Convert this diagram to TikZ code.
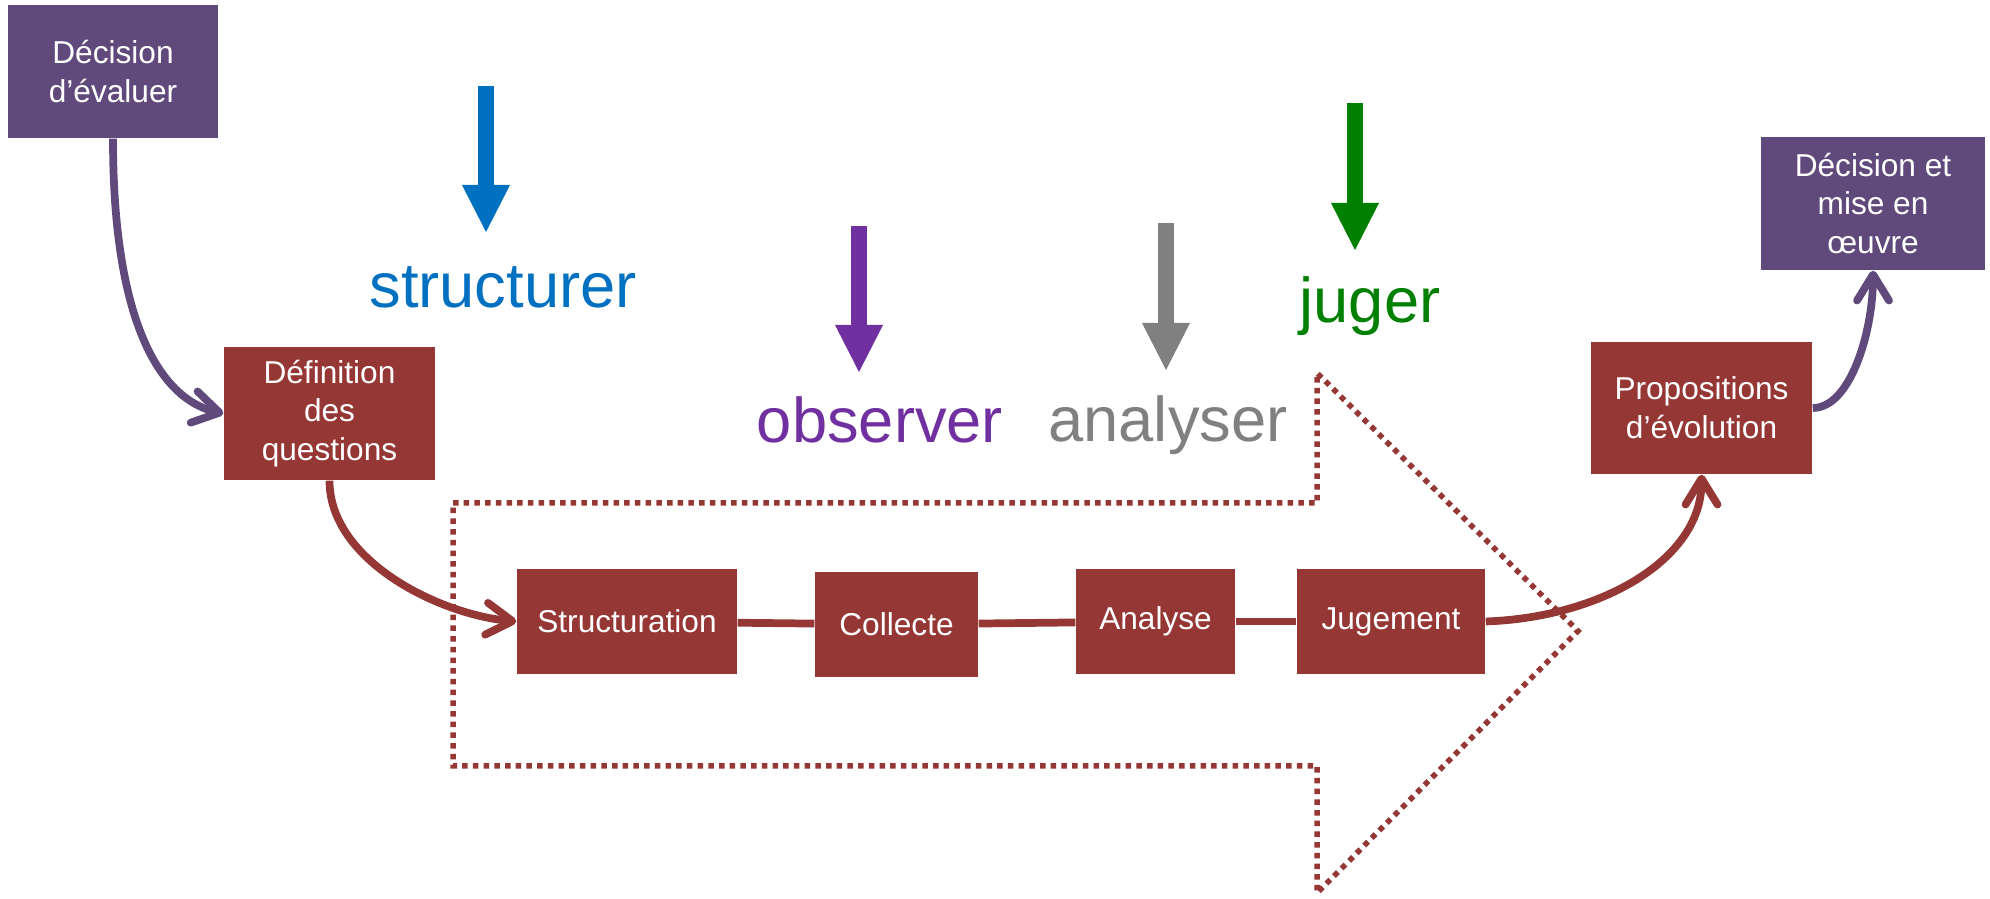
\documentclass[tikz,border=0pt]{standalone}
\usepackage{fontspec}
\setmainfont{Liberation Sans}
\usetikzlibrary{arrows.meta}
\definecolor{prune}{RGB}{96,74,123}
\definecolor{bordeaux}{RGB}{149,55,53}
\definecolor{bleu}{RGB}{0,112,192}
\definecolor{mauve}{RGB}{112,48,160}
\definecolor{gris}{RGB}{128,128,128}
\definecolor{vert}{RGB}{0,128,0}
\tikzset{>={Straight Barb[length=2.6mm,width=3.2mm,round]},
  boite/.style={fill=bordeaux, text=white, font=\fontsize{9}{11}\selectfont, align=center, inner sep=0pt, minimum height=1.05cm},
  decision/.style={boite, fill=prune, minimum height=1.33cm},
  lien/.style={bordeaux, line width=2.2pt},
  fleche/.style={line width=1.6mm, -{Triangle[length=4.7mm,width=4.8mm,line width=0pt]}},
  verbe/.style={font=\fontsize{18}{22}\selectfont, anchor=base},
  pointille/.style={bordeaux, line width=0.55mm, dash pattern=on 0.55mm off 0.52mm}}

\begin{document}
\begin{tikzpicture}
  \useasboundingbox (0,0) rectangle (19.90,-8.99);

  % grande fleche en pointilles
  \draw[pointille] (4.53,-5.03) -- (13.17,-5.03) -- (13.17,-3.73) -- (15.78,-6.31) -- (13.17,-8.93) -- (13.17,-7.66) -- (4.53,-7.66) -- cycle;

  % etapes
  \node[decision, minimum width=2.10cm] (evaluer) at (1.13,-0.715) {Décision\\d’évaluer};
  \node[boite, minimum width=2.11cm, minimum height=1.33cm] (questions) at (3.295,-4.135) {Définition\\des\\questions};
  \node[boite, minimum width=2.20cm] (structuration) at (6.27,-6.215) {Structuration};
  \node[boite, minimum width=1.63cm] (collecte) at (8.965,-6.245) {Collecte};
  \node[boite, minimum width=1.59cm] (analyse) at (11.555,-6.215) {Analyse};
  \node[boite, minimum width=1.88cm] (jugement) at (13.91,-6.215) {Jugement};
  \node[boite, minimum width=2.21cm, minimum height=1.32cm] (propositions) at (17.015,-4.08) {Propositions\\d’évolution};
  \node[decision, minimum width=2.24cm] (oeuvre) at (18.73,-2.035) {Décision et\\mise en\\œuvre};

  % verbes
  \node[verbe, bleu] (structurer) at (5.03,-3.08) {structurer};
  \node[verbe, mauve] (observer) at (8.80,-4.43) {observer};
  \node[verbe, gris] (analyser) at (11.68,-4.42) {analyser};
  \node[verbe, vert] (juger) at (13.70,-3.23) {juger};

  \coordinate (hautS) at (4.86,-0.86);  \coordinate (basS) at (4.86,-2.32);
  \coordinate (hautO) at (8.59,-2.26);  \coordinate (basO) at (8.59,-3.72);
  \coordinate (hautA) at (11.66,-2.23); \coordinate (basA) at (11.66,-3.70);
  \coordinate (hautJ) at (13.55,-1.03); \coordinate (basJ) at (13.55,-2.50);
  \draw[fleche, bleu] (hautS) -- (basS);
  \draw[fleche, mauve] (hautO) -- (basO);
  \draw[fleche, gris] (hautA) -- (basA);
  \draw[fleche, vert] (hautJ) -- (basJ);

  % liens
  \draw[lien] (structuration) -- (collecte);
  \draw[lien] (collecte) -- (analyse);
  \draw[lien] (analyse) -- (jugement);
  \draw[lien, prune, ->] (evaluer.south) .. controls +(0,-1.92) and +(-0.59,0.13) .. (questions.west);
  \draw[lien, ->] (questions.south) .. controls +(0,-0.8) and +(-0.77,0.07) .. (structuration.west);
  \draw[lien, ->] (jugement.east) .. controls +(1.15,0.04) and +(0,-0.85) .. (propositions.south);
  \draw[lien, prune, ->] (propositions.east) .. controls +(0.38,0) and +(0,-0.6) .. (oeuvre.south);
\end{tikzpicture}
\end{document}
